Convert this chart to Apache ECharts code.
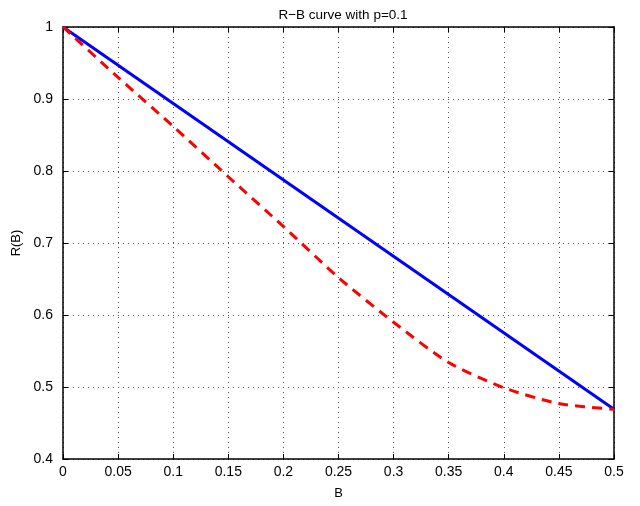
<!DOCTYPE html>
<html>
<head>
<meta charset="utf-8">
<script src="https://cdn.jsdelivr.net/npm/echarts@6/dist/echarts.min.js"></script>
<style>html,body{margin:0;padding:0;background:#fff;}#c{width:640px;height:506px;}</style>
</head>
<body>
<div id="c"></div>
<script>
const titleText = 'R\u2212B curve with p=0.1';
const xName = 'B';
const yName = 'R(B)';
const blueB = [0, 0.5];
const blueR = [1, 0.469];
const redB = [0, 0.05, 0.1, 0.15, 0.2, 0.25, 0.3, 0.35, 0.4, 0.45, 0.5];
const redR = [1, 0.930, 0.862, 0.792, 0.723, 0.652, 0.590, 0.534, 0.499, 0.477, 0.469];

const font = 'Liberation Sans, Arial, Helvetica, sans-serif';
const chart = echarts.init(document.getElementById('c'));
const fmt = v => String(+v.toFixed(2));
const tick = {show: true, inside: true, length: 5, lineStyle: {color: '#000', width: 1}};
const line = {show: true, onZero: false, lineStyle: {color: '#000', width: 1.5}};
const grid = {show: true, lineStyle: {color: '#555', width: 1, type: [1, 4]}};
chart.setOption({
  animation: false,
  backgroundColor: '#fff',
  title: {text: titleText, left: 338, top: 3, textAlign: 'center',
    textStyle: {fontFamily: font, fontSize: 13.5, fontWeight: 'normal', color: '#000'}},
  grid: {left: 63, right: 26, top: 27, bottom: 47},
  xAxis: [
    {type: 'value', min: 0, max: 0.5, interval: 0.05, name: xName, nameLocation: 'middle', nameGap: 28,
      nameTextStyle: {fontFamily: font, fontSize: 13, color: '#000'},
      axisLine: line, axisTick: tick, splitLine: grid,
      axisLabel: {formatter: fmt, fontFamily: font, fontSize: 14, color: '#000', margin: 6}},
    {type: 'value', min: 0, max: 0.5, interval: 0.05, position: 'top',
      axisLine: line, axisTick: tick, splitLine: {show: false}, axisLabel: {show: false}}
  ],
  yAxis: [
    {type: 'value', min: 0.4, max: 1, interval: 0.1, name: yName, nameLocation: 'middle', nameGap: 31,
      nameTextStyle: {fontFamily: font, fontSize: 13, color: '#000'},
      axisLine: line, axisTick: tick, splitLine: grid,
      axisLabel: {formatter: fmt, fontFamily: font, fontSize: 14, color: '#000', margin: 10}},
    {type: 'value', min: 0.4, max: 1, interval: 0.1, position: 'right',
      axisLine: line, axisTick: tick, splitLine: {show: false}, axisLabel: {show: false}}
  ],
  series: [
    {type: 'line', data: blueB.map((b, i) => [b, blueR[i]]), showSymbol: false, symbol: 'none',
      lineStyle: {color: '#0000ff', width: 3}},
    {type: 'line', data: redB.map((b, i) => [b, redR[i]]), showSymbol: false, symbol: 'none',
      smooth: 0.25,
      lineStyle: {color: '#ff0000', width: 3, type: [10, 7]}}
  ]
});
</script>
</body>
</html>
